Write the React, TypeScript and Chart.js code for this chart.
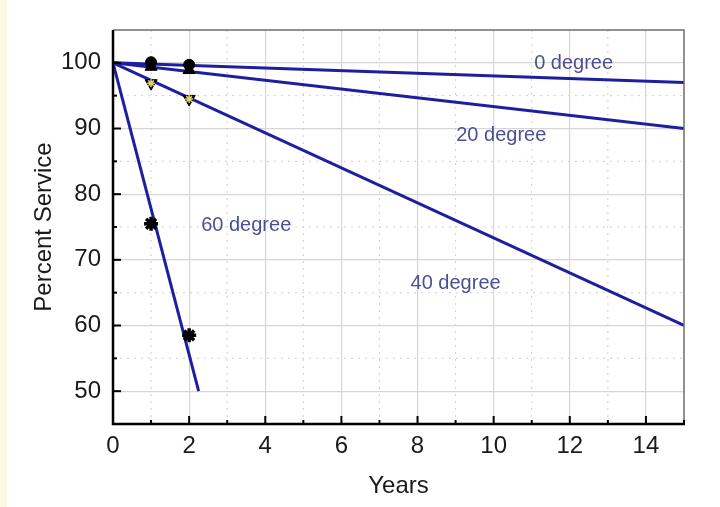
import Chart from "chart.js/auto";
import { useEffect, useRef } from "react";

// fitted lines, one per tilt angle
const lineNames = ["0 degree", "20 degree", "40 degree", "60 degree"];
const fitYears = [
	[0, 15],
	[0, 15],
	[0, 15],
	[0, 2.25],
];
const fitValues = [
	[100, 97],
	[100, 90],
	[100, 60],
	[100, 50],
];

// measured points
const obsYears = [1, 2];
const obs0 = [100.1, 99.7];
const obs20 = [99.4, 98.9];
const obs40 = [96.9, 94.5];
const obs60 = [75.5, 58.5];

// where the line names sit
const labelYears = [12.1, 10.2, 9.0, 3.5];
const labelValues = [99.9, 88.9, 66.4, 75.2];

const xMin = 0;
const xMax = 15;
const yMin = 45;
const yMax = 105;

const lineColor = "#1e1e9e";
const noteColor = "#4b4f93";
const font = "'Liberation Sans', Arial, sans-serif";

const pts = (xs: number[], ys: number[]) => xs.map((x, i) => ({ x, y: ys[i] }));

const frame = {
	id: "frame",
	beforeDatasetsDraw(chart: any) {
		const { ctx, chartArea: a, scales } = chart;
		ctx.save();
		ctx.strokeStyle = "#cfcfcf";
		ctx.lineWidth = 1;
		ctx.setLineDash([2, 5]);
		for (let v = xMin + 1; v < xMax; v += 2) {
			const px = scales.x.getPixelForValue(v);
			ctx.beginPath();
			ctx.moveTo(px, a.top);
			ctx.lineTo(px, a.bottom);
			ctx.stroke();
		}
		for (let v = 55; v < yMax; v += 10) {
			const py = scales.y.getPixelForValue(v);
			ctx.beginPath();
			ctx.moveTo(a.left, py);
			ctx.lineTo(a.right, py);
			ctx.stroke();
		}
		ctx.restore();
	},
	afterDatasetsDraw(chart: any) {
		const { ctx, scales } = chart;
		ctx.save();
		ctx.fillStyle = noteColor;
		ctx.font = `20px ${font}`;
		ctx.textAlign = "center";
		ctx.textBaseline = "middle";
		lineNames.forEach((name, i) => {
			ctx.fillText(
				name,
				scales.x.getPixelForValue(labelYears[i]),
				scales.y.getPixelForValue(labelValues[i]),
			);
		});
		ctx.restore();
	},
	afterDraw(chart: any) {
		const { ctx, chartArea: a, scales } = chart;
		ctx.save();
		// top / right frame
		ctx.strokeStyle = "#6e6e6e";
		ctx.lineWidth = 1.5;
		ctx.beginPath();
		ctx.moveTo(a.left, a.top);
		ctx.lineTo(a.right, a.top);
		ctx.lineTo(a.right, a.bottom);
		ctx.stroke();
		// ticks, pointing inwards
		ctx.strokeStyle = "#000";
		ctx.lineWidth = 2;
		for (let v = xMin + 1; v <= xMax; v++) {
			const px = scales.x.getPixelForValue(v);
			const len = v % 2 === 0 ? 8 : 4;
			ctx.beginPath();
			ctx.moveTo(px, a.bottom);
			ctx.lineTo(px, a.bottom - len);
			ctx.stroke();
		}
		for (let v = 50; v < yMax; v += 5) {
			const py = scales.y.getPixelForValue(v);
			const len = v % 10 === 0 ? 8 : 4;
			ctx.beginPath();
			ctx.moveTo(a.left, py);
			ctx.lineTo(a.left + len, py);
			ctx.stroke();
		}
		// left / bottom axes
		ctx.lineWidth = 2.5;
		ctx.beginPath();
		ctx.moveTo(a.left, a.top);
		ctx.lineTo(a.left, a.bottom);
		ctx.lineTo(a.right + 1, a.bottom);
		ctx.stroke();
		ctx.restore();
	},
};

const App = () => {
	const chartRef = useRef<HTMLCanvasElement | null>(null);

	useEffect(() => {
		document.body.style.margin = "0";
		if (!chartRef.current) return;
		const ctx = chartRef.current.getContext("2d");
		if (!ctx) return;

		const lines = fitYears.map((xs, i) => ({
			label: lineNames[i],
			data: pts(xs, fitValues[i]),
			showLine: true,
			borderColor: lineColor,
			borderWidth: 3,
			pointRadius: 0,
			order: 10,
		}));

		const myChart = new Chart(ctx, {
			type: "scatter",
			data: {
				datasets: [
					...lines,
					{
						label: "0 degree data",
						data: pts(obsYears, obs0),
						pointStyle: "circle",
						pointRadius: 5.5,
						backgroundColor: "#000",
						borderColor: "#000",
						order: 1,
					},
					{
						label: "20 degree data",
						data: pts(obsYears, obs20),
						pointStyle: "triangle",
						pointRadius: 7,
						backgroundColor: "#000",
						borderColor: "#000",
						order: 2,
					},
					{
						label: "40 degree data",
						data: pts(obsYears, obs40),
						pointStyle: "triangle",
						rotation: 180,
						pointRadius: 7,
						backgroundColor: "#000",
						borderColor: "#000",
						order: 2,
					},
					{
						label: "40 degree overlay",
						data: pts(obsYears, obs40),
						pointStyle: "star",
						pointRadius: 4,
						borderWidth: 1.5,
						borderColor: "#d9d66e",
						order: 0,
					},
					{
						label: "60 degree data",
						data: pts(obsYears, obs60),
						pointStyle: "star",
						pointRadius: 7,
						borderWidth: 3.5,
						borderColor: "#000",
						order: 1,
					},
				],
			},
			options: {
				animation: false,
				responsive: false,
				layout: { padding: { top: 30, right: 36, left: 0, bottom: 0 } },
				plugins: {
					legend: { display: false },
					tooltip: { enabled: false },
				},
				scales: {
					x: {
						type: "linear",
						min: xMin,
						max: xMax,
						afterFit: (s: any) => {
							s.height = 83;
						},
						ticks: {
							stepSize: 1,
							autoSkip: false,
							maxRotation: 0,
							padding: 8,
							color: "#1a1a1a",
							font: { family: font, size: 24 },
							callback: (v: any) => (Number(v) % 2 === 0 ? String(v) : ""),
						},
						grid: {
							drawTicks: false,
							lineWidth: 1.2,
							color: (c: any) =>
								c.tick && c.tick.value % 2 === 0 ? "#d6d6d6" : "rgba(0,0,0,0)",
						},
						border: { display: false },
						title: {
							display: true,
							text: "Years",
							color: "#1a1a1a",
							font: { family: font, size: 24 },
							padding: { top: 0, bottom: 6 },
						},
					},
					y: {
						type: "linear",
						min: yMin,
						max: yMax,
						afterFit: (s: any) => {
							s.width = 113;
						},
						ticks: {
							stepSize: 5,
							autoSkip: false,
							padding: 12,
							color: "#1a1a1a",
							font: { family: font, size: 24 },
							callback: (v: any) => (Number(v) % 10 === 0 ? String(v) : ""),
						},
						grid: {
							drawTicks: false,
							lineWidth: 1.2,
							color: (c: any) =>
								c.tick && c.tick.value % 10 === 0 ? "#d6d6d6" : "rgba(0,0,0,0)",
						},
						border: { display: false },
						title: {
							display: true,
							text: "Percent Service",
							color: "#1a1a1a",
							font: { family: font, size: 24 },
							padding: { top: 30, bottom: 0 },
						},
					},
				},
			},
			plugins: [frame],
		});

		return () => {
			myChart.destroy();
		};
	}, []);

	return (
		<div
			style={{
				position: "absolute",
				left: 0,
				top: 0,
				width: 720,
				height: 507,
				background: "#fff",
			}}
		>
			<div
				style={{
					position: "absolute",
					left: 0,
					top: 0,
					width: 7,
					height: 507,
					background: "#fbf8e3",
				}}
			/>
			<canvas ref={chartRef} width={720} height={507} style={{ display: "block" }} />
		</div>
	);
};

export default App;
